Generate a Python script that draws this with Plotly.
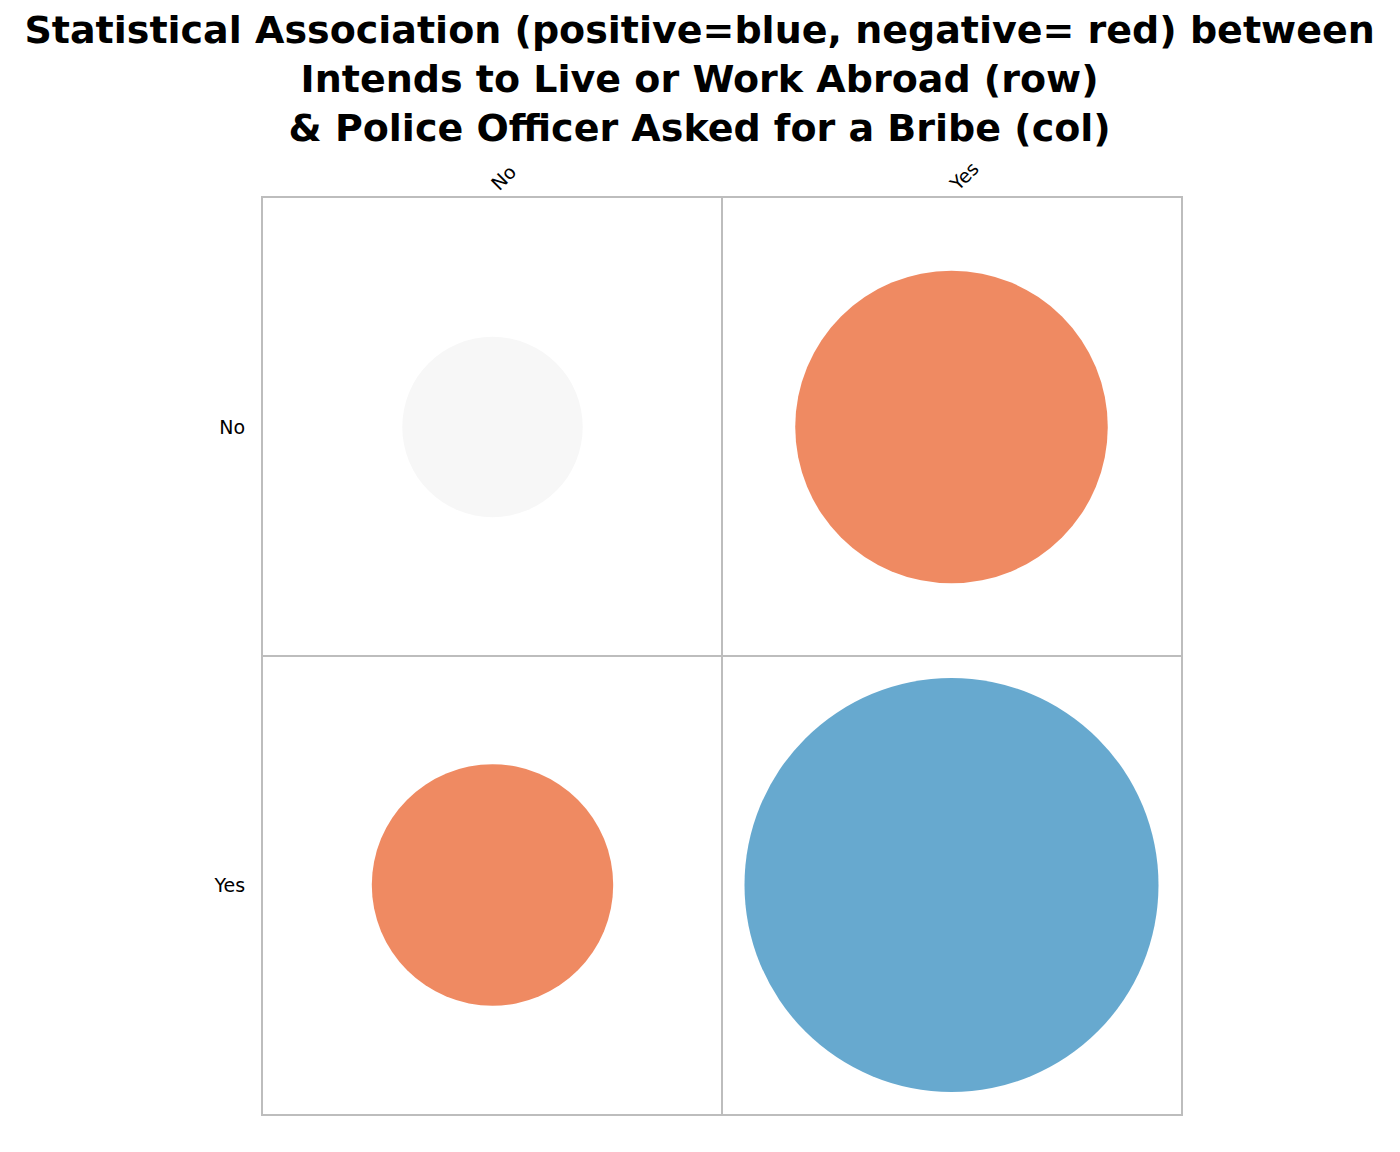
import numpy as np
import plotly.graph_objects as go

# ---- data ----
row_labels = ["No", "Yes"]          # Intends to Live or Work Abroad
col_labels = ["No", "Yes"]          # Police Officer Asked for a Bribe
# relative cell magnitude (area-proportional), row-major
magnitude = [[0.19, 0.57],
             [0.34, 1.00]]
# direction of association per cell
association = [["neutral", "negative"],
               ["negative", "positive"]]

title_lines = [
    "Statistical Association (positive=blue, negative= red) between",
    "Intends to Live or Work Abroad (row)",
    "& Police Officer Asked for a Bribe (col)",
]

# ---- styles ----
colour_map = {"positive": "#67A9CF", "negative": "#EF8A62", "neutral": "#F7F7F7"}
MAX_DIAM = 414
GRID = "#BDBDBD"

xs, ys, sizes, colours = [], [], [], []
for i, r in enumerate(row_labels):
    for j, c in enumerate(col_labels):
        xs.append(j)
        ys.append(i)
        sizes.append(float(np.sqrt(magnitude[i][j])) * MAX_DIAM)
        colours.append(colour_map[association[i][j]])

fig = go.Figure(go.Scatter(
    x=xs, y=ys, mode="markers",
    marker=dict(size=sizes, sizemode="diameter", color=colours,
                line=dict(width=0), opacity=1),
    hoverinfo="skip", showlegend=False,
))

axis_common = dict(
    showgrid=False, zeroline=False, showline=True, mirror=True,
    linecolor=GRID, linewidth=2, ticks="",
    tickfont=dict(family="DejaVu Sans", size=19, color="black"),
    minor=dict(tickmode="array", tickvals=[0.5], showgrid=True,
               gridcolor=GRID, gridwidth=2, ticks=""),
)

fig.update_xaxes(range=[-0.5, 1.5], tickmode="array", tickvals=[0, 1],
                 ticktext=col_labels, side="top", tickangle=-45,
                 ticklabelstandoff=-6, **axis_common)
fig.update_yaxes(range=[1.5, -0.5], tickmode="array", tickvals=[0, 1],
                 ticktext=row_labels, ticklabelstandoff=12, **axis_common)

fig.update_layout(
    width=1400, height=1152,
    margin=dict(l=255, r=227, t=190, b=46),
    paper_bgcolor="white", plot_bgcolor="white",
    title=dict(text="<br>".join(title_lines), x=0.494, xref="container",
               xanchor="center", y=0.970, yref="container", yanchor="top",
               font=dict(family="DejaVu Sans", size=38, color="black",
                         weight="bold")),
)

fig.write_html("out.html")
